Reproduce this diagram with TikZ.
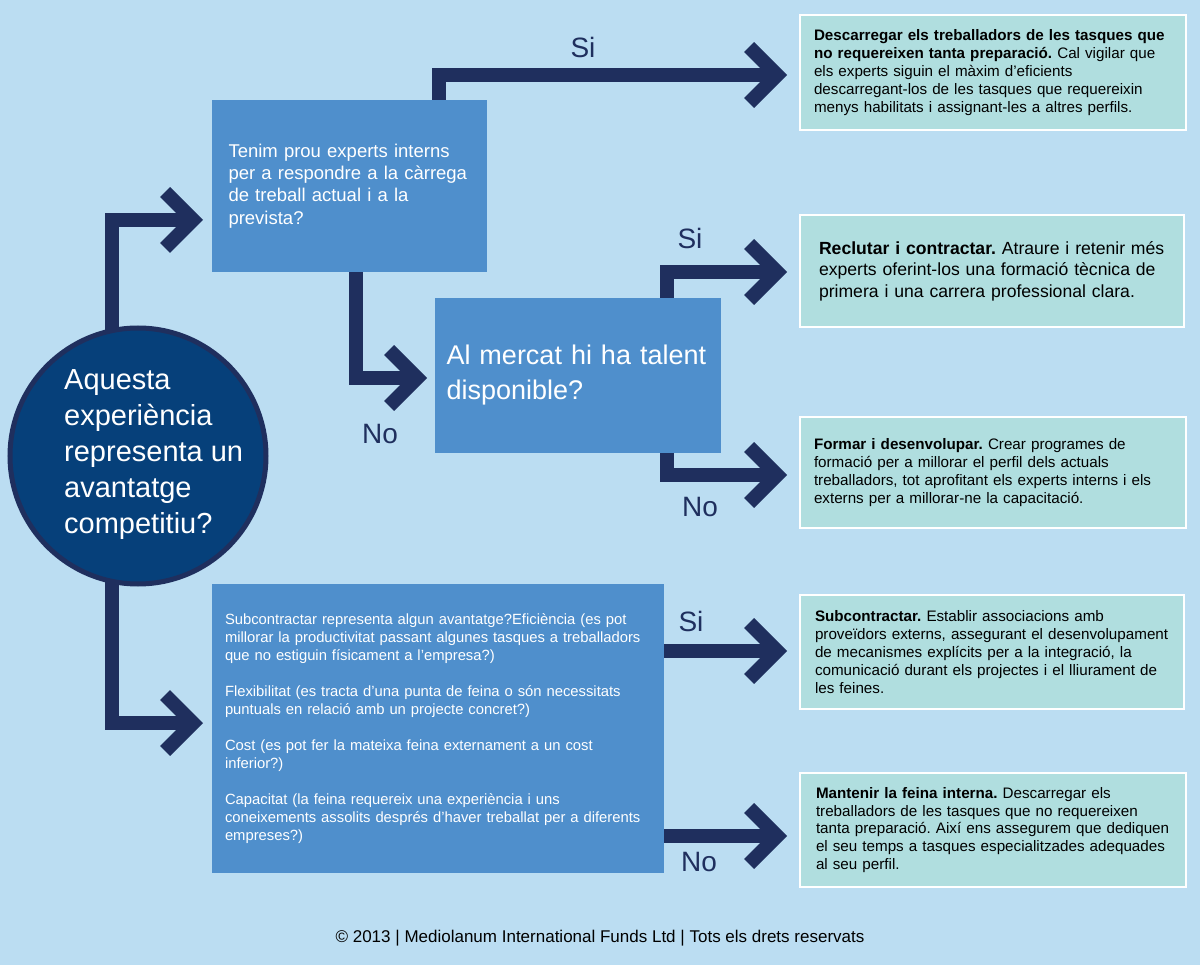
\documentclass[tikz,border=0pt]{standalone}
\usepackage{fontspec}
\setmainfont{Liberation Sans}
\definecolor{bgblue}{RGB}{187,221,242}
\definecolor{navy}{RGB}{31,47,94}
\definecolor{deepblue}{RGB}{6,64,122}
\definecolor{boxblue}{RGB}{79,143,204}
\definecolor{pale}{RGB}{176,222,223}
% thick open chevron used as arrow tip
\pgfdeclarearrow{
  name = Chevron,
  setup code = {
    \pgfarrowssettipend{9.9pt}
    \pgfarrowssetlineend{-4pt}
    \pgfarrowssetbackend{-33pt}
  },
  drawing code = {
    \pgfsetlinewidth{14pt}
    \pgfsetmiterjoin
    \pgfsetbuttcap
    \pgfpathmoveto{\pgfqpoint{-28pt}{28pt}}
    \pgfpathlineto{\pgfpointorigin}
    \pgfpathlineto{\pgfqpoint{-28pt}{-28pt}}
    \pgfusepathqstroke
  }
}
\tikzset{
  flow/.style={draw=navy, line width=14pt, -Chevron},
  bigq/.style={circle, draw=navy, line width=5pt, fill=deepblue,
    minimum size=256pt, inner sep=0pt},
  bigqtext/.style={anchor=west, align=left, text=white, inner sep=0pt,
    font=\fontsize{29}{36}\selectfont},
  qbox/.style={anchor=north west, fill=boxblue, text=white, align=left,
    inner ysep=0pt, outer sep=0pt},
  outbox/.style={anchor=north west, draw=white, line width=2pt, fill=pale,
    align=left, inner ysep=0pt, outer sep=0pt, minimum width=384pt,
    text width=358pt, inner xsep=14pt, font=\fontsize{15.2}{17.8}\selectfont},
  yesno/.style={text=navy, inner sep=0pt, font=\fontsize{28}{30}\selectfont}
}
\begin{document}
\frenchspacing
\begin{tikzpicture}[x=1pt,y=-1pt]
  \fill[bgblue] (0,0) rectangle (1200,965);
  % questions
  \node[bigq] (q0) at (138,456) {};
  \node[bigqtext] (q0t) at (64,455)
    {Aquesta\\experiència\\representa un\\avantatge\\competitiu?};
  \node[qbox, minimum width=274pt, minimum height=172pt, text width=242pt,
    inner xsep=16.5pt, font=\fontsize{18.5}{22.3}\selectfont] (q1) at (212,100)
    {Tenim prou experts interns\\per a respondre a la càrrega\\de treball actual i a la\\prevista?};
  \node[qbox, minimum width=285pt, minimum height=155pt, text width=263pt,
    inner xsep=11.5pt, font=\fontsize{27}{35}\selectfont] (q2) at (435,298)
    {Al mercat hi ha talent\\disponible?};
  \node[qbox, minimum width=452pt, minimum height=289pt, text width=426pt,
    inner xsep=13pt, font=\fontsize{14.8}{18}\selectfont] (q3) at (212,584)
    {Subcontractar representa algun avantatge?Eficiència (es pot\\
     millorar la productivitat passant algunes tasques a treballadors\\
     que no estiguin físicament a l’empresa?)\\[18pt]
     Flexibilitat (es tracta d’una punta de feina o són necessitats\\
     puntuals en relació amb un projecte concret?)\\[18pt]
     Cost (es pot fer la mateixa feina externament a un cost\\
     inferior?)\\[18pt]
     Capacitat (la feina requereix una experiència i uns\\
     coneixements assolits després d’haver treballat per a diferents\\
     empreses?)};
  % answers
  \node[outbox, minimum height=115pt] (r1) at (800,15)
    {\textbf{Descarregar els treballadors de les tasques que}\\
     \textbf{no requereixen tanta preparació.} Cal vigilar que\\
     els experts siguin el màxim d’eficients\\
     descarregant-los de les tasques que requereixin\\
     menys habilitats i assignant-les a altres perfils.};
  \node[outbox, minimum height=112pt, text width=346pt, inner xsep=19pt,
    font=\fontsize{17.6}{21.5}\selectfont] (r2) at (800,215)
    {\textbf{Reclutar i contractar.} Atraure i retenir més\\
     experts oferint-los una formació tècnica de\\
     primera i una carrera professional clara.};
  \node[outbox, minimum height=111pt] (r3) at (800,417)
    {\textbf{Formar i desenvolupar.} Crear programes de\\
     formació per a millorar el perfil dels actuals\\
     treballadors, tot aprofitant els experts interns i els\\
     externs per a millorar-ne la capacitació.};
  \node[outbox, minimum height=114pt, inner xsep=15pt, text width=354pt] (r4) at (800,595)
    {\textbf{Subcontractar.} Establir associacions amb\\
     proveïdors externs, assegurant el desenvolupament\\
     de mecanismes explícits per a la integració, la\\
     comunicació durant els projectes i el lliurament de\\
     les feines.};
  \node[outbox, minimum height=114pt, inner xsep=16pt, text width=354pt] (r5) at (800,773)
    {\textbf{Mantenir la feina interna.} Descarregar els\\
     treballadors de les tasques que no requereixen\\
     tanta preparació. Així ens assegurem que dediquen\\
     el seu temps a tasques especialitzades adequades\\
     al seu perfil.};
  % arrow ends
  \coordinate (t1) at ([xshift=-9pt,yshift=-34pt]q1.west);
  \coordinate (t3) at ([xshift=-9pt,yshift=5.5pt]q3.west);
  \coordinate (tq2) at ([xshift=-8pt,yshift=-2.5pt]q2.west);
  \coordinate (tr1) at ([xshift=-13pt,yshift=-2.5pt]r1.west);
  \coordinate (tr2) at ([xshift=-13pt,yshift=-1pt]r2.west);
  \coordinate (tr3) at ([xshift=-13pt,yshift=-2.5pt]r3.west);
  \coordinate (tr4) at ([xshift=-13pt,yshift=1pt]r4.west);
  \coordinate (tr5) at ([xshift=-13pt,yshift=-6pt]r5.west);
  \draw[flow] ([xshift=-26pt,yshift=-5pt]q0.north) |- (t1);
  \draw[flow] ([xshift=-26pt,yshift=5pt]q0.south) |- (t3);
  \draw[flow] ([xshift=89pt]q1.north) |- (tr1);
  \draw[flow] ([xshift=6pt]q1.south) |- (tq2);
  \draw[flow] ([xshift=88.5pt]q2.north) |- (tr2);
  \draw[flow] ([xshift=88.5pt]q2.south) |- (tr3);
  \draw[flow] (q3.east |- tr4) -- (tr4);
  \draw[flow] (q3.east |- tr5) -- (tr5);
  % labels
  \node[yesno] (si1) at (583,47) {Si};
  \node[yesno] (no1) at (380,434) {No};
  \node[yesno] (si2) at (690,238) {Si};
  \node[yesno] (no2) at (700,507) {No};
  \node[yesno] (si3) at (691,621) {Si};
  \node[yesno] (no3) at (699,862) {No};
  \node[font=\fontsize{17}{18}\selectfont, inner sep=0pt] (foot) at (600,938)
    {© 2013 | Mediolanum International Funds Ltd | Tots els drets reservats};
\end{tikzpicture}
\end{document}
